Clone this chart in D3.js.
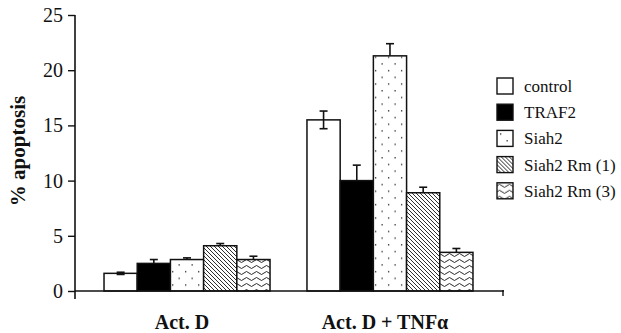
<!DOCTYPE html>
<html>
<head>
<meta charset="utf-8">
<script src="https://cdn.jsdelivr.net/npm/d3@7"></script>
<style>
  body { margin: 0; background: #fff; }
  text { font-family: "Liberation Serif", "DejaVu Serif", serif; fill: #111; }
</style>
</head>
<body>
<div id="chart"></div>
<script>
const groups = ["Act. D", "Act. D + TNFα"];
const series = ["control", "TRAF2", "Siah2", "Siah2 Rm (1)", "Siah2 Rm (3)"];
const actD = [1.6, 2.5, 2.85, 4.1, 2.85];
const actDErr = [0.1, 0.35, 0.15, 0.2, 0.3];
const actDTnf = [15.5, 10.0, 21.3, 8.9, 3.5];
const actDTnfErr = [0.8, 1.4, 1.1, 0.5, 0.35];
const yTicks = [0, 5, 10, 15, 20, 25];

const width = 621, height = 333;
const svg = d3.select("#chart").append("svg")
    .attr("width", width).attr("height", height);

// patterns for the hatched bars
const defs = svg.append("defs");
let p = defs.append("pattern").attr("id", "dots").attr("patternUnits", "userSpaceOnUse")
    .attr("width", 13).attr("height", 13.4);
p.append("rect").attr("width", 13).attr("height", 13.4).attr("fill", "#fff");
p.append("rect").attr("x", 3).attr("y", 3).attr("width", 1.3).attr("height", 1.3).attr("fill", "#222");
p.append("rect").attr("x", 9.5).attr("y", 9.7).attr("width", 1.3).attr("height", 1.3).attr("fill", "#222");

p = defs.append("pattern").attr("id", "diag").attr("patternUnits", "userSpaceOnUse")
    .attr("width", 4).attr("height", 4);
p.append("rect").attr("width", 4).attr("height", 4).attr("fill", "#fff");
p.append("path").attr("d", "M-1,-1 L5,5 M-1,3 L1,5 M3,-1 L5,1")
    .attr("stroke", "#111").attr("stroke-width", 0.9);

p = defs.append("pattern").attr("id", "wave").attr("patternUnits", "userSpaceOnUse")
    .attr("width", 10).attr("height", 6);
p.append("rect").attr("width", 10).attr("height", 6).attr("fill", "#fff");
p.append("path").attr("d", "M0,3 Q2.5,0 5,3 T10,3")
    .attr("fill", "none").attr("stroke", "#111").attr("stroke-width", 0.9);

const fills = ["#fff", "#000", "url(#dots)", "url(#diag)", "url(#wave)"];

const axisX = 75;
const y = d3.scaleLinear().domain([0, 25]).range([291, 15]);
const x0 = d3.scaleBand().domain(groups).range([axisX, 502]).paddingInner(0.182).paddingOuter(0.143);
const x1 = d3.scaleBand().domain(series).range([0, x0.bandwidth()]);

const data = groups.map((g, gi) => series.map((s, si) => ({
    group: g, series: s, i: si,
    value: gi === 0 ? actD[si] : actDTnf[si],
    err: gi === 0 ? actDErr[si] : actDTnfErr[si]
})));

const gBars = svg.append("g").selectAll("g").data(data).join("g")
    .attr("transform", d => `translate(${x0(d[0].group)},0)`);

// error bars first so bar bodies hide the downward half
gBars.selectAll("g.err").data(d => d).join("g").attr("class", "err")
    .each(function (d) {
        const cx = x1(d.series) + x1.bandwidth() / 2;
        const g = d3.select(this);
        g.append("line").attr("x1", cx).attr("x2", cx)
            .attr("y1", y(d.value - d.err)).attr("y2", y(d.value + d.err))
            .attr("stroke", "#111").attr("stroke-width", 1.6);
        [d.value + d.err, d.value - d.err].forEach(v => {
            g.append("line").attr("x1", cx - 4).attr("x2", cx + 4)
                .attr("y1", y(v)).attr("y2", y(v))
                .attr("stroke", "#111").attr("stroke-width", 1.6);
        });
    });

gBars.selectAll("rect").data(d => d).join("rect")
    .attr("x", d => x1(d.series))
    .attr("y", d => y(d.value))
    .attr("width", x1.bandwidth())
    .attr("height", d => y(0) - y(d.value))
    .attr("fill", d => fills[d.i])
    .attr("fill-opacity", d => d.i === 0 ? 0 : 1)
    .attr("stroke", "#111").attr("stroke-width", 1.5);

// y axis
const yAxis = svg.append("g").attr("transform", `translate(${axisX},0)`)
    .call(d3.axisLeft(y).tickValues(yTicks).tickSize(7).tickPadding(5));
yAxis.select(".domain").attr("d", "M0,15V299").attr("stroke", "#111").attr("stroke-width", 1.6);
yAxis.selectAll(".tick line").attr("stroke", "#111").attr("stroke-width", 1.4);
yAxis.selectAll(".tick text").attr("font-size", 20)
    .attr("font-family", "Liberation Serif, serif").attr("fill", "#111");

// x axis
svg.append("line").attr("x1", axisX).attr("x2", 504).attr("y1", y(0)).attr("y2", y(0))
    .attr("stroke", "#111").attr("stroke-width", 1.6);
svg.append("line").attr("x1", 503).attr("x2", 503).attr("y1", y(0) - 1).attr("y2", y(0) + 5)
    .attr("stroke", "#111").attr("stroke-width", 1.4);

svg.append("g").selectAll("text").data(groups).join("text")
    .attr("x", d => x0(d) + x0.bandwidth() / 2 - 5)
    .attr("y", 329)
    .attr("text-anchor", "middle")
    .attr("font-size", 20).attr("font-weight", "bold")
    .text(d => d);

svg.append("text")
    .attr("transform", "translate(25,151) rotate(-90)")
    .attr("text-anchor", "middle")
    .attr("font-size", 21).attr("font-weight", "bold")
    .text("% apoptosis");

// legend
const legend = svg.append("g").selectAll("g").data(series).join("g")
    .attr("transform", (d, i) => `translate(497,${78 + i * 26.2})`);
legend.append("rect").attr("width", 16).attr("height", 16)
    .attr("fill", (d, i) => fills[i])
    .attr("stroke", "#111").attr("stroke-width", 1.4);
legend.append("text").attr("x", 27).attr("y", 14)
    .attr("font-size", 17).text(d => d);
</script>
</body>
</html>
